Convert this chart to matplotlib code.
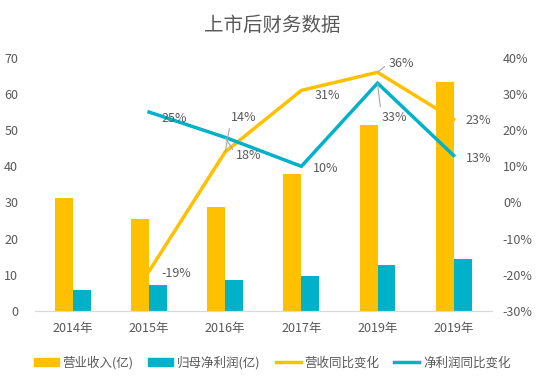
import matplotlib
matplotlib.use('Agg')
import matplotlib.pyplot as plt
from matplotlib.patches import Patch
from matplotlib.lines import Line2D
import numpy as np

plt.rcParams['font.family'] = ['Noto Sans CJK SC', 'DejaVu Sans']

years = ['2014年', '2015年', '2016年', '2017年', '2019年', '2019年']
revenue = [31.3, 25.5, 28.8, 37.9, 51.5, 63.4]
net_profit = [5.8, 7.2, 8.6, 9.7, 12.7, 14.4]
rev_growth = [None, -19, 14, 31, 36, 23]
profit_growth = [None, 25, 18, 10, 33, 13]

YELLOW = '#FFC000'
CYAN = '#00B2C9'
GRAY = '#595959'

fig = plt.figure(figsize=(5.44, 3.83), dpi=100)
ax = fig.add_axes([0.064, 0.188, 0.84, 0.661])
ax2 = ax.twinx()

x = np.arange(len(years))
w = 0.235
ax.bar(x - w / 2, revenue, w, color=YELLOW)
ax.bar(x + w / 2, net_profit, w, color=CYAN)
ax.set_xlim(-0.5, len(years) - 0.5)
ax.set_ylim(0, 70)
ax.set_yticks(range(0, 71, 10))
ax.set_xticks(x)
ax.set_xticklabels(years)

xl = x[1:]
rg = rev_growth[1:]
pg = profit_growth[1:]
ax2.plot(xl, rg, color=YELLOW, lw=2.5, solid_joinstyle='miter')
ax2.plot(xl, pg, color=CYAN, lw=2.5, solid_joinstyle='miter')
ax2.set_ylim(-30, 40)
ax2.set_yticks(range(-30, 41, 10))
ax2.set_yticklabels([f'{v}%' for v in range(-30, 41, 10)])

for a in (ax, ax2):
    for s in ('top', 'left', 'right'):
        a.spines[s].set_visible(False)
    a.spines['bottom'].set_color('#D9D9D9')
    a.tick_params(length=0, colors=GRAY, labelsize=9)
ax.tick_params(axis='x', pad=8)
ax.tick_params(axis='y', pad=12)
ax2.tick_params(axis='y', pad=8)

# data labels (offsets in pixels)
rev_off = [(12, -2), (6, 34), (13, -5), (11, 9), (12, -1)]
pro_off = [(12, -6), (11, -18), (12, -2), (4, -34), (12, -3)]
rev_lead = [False, True, False, True, False]
pro_lead = [False, True, False, True, False]
for i in range(len(xl)):
    for vals, offs, leads in ((rg, rev_off, rev_lead), (pg, pro_off, pro_lead)):
        props = None
        if leads[i]:
            props = dict(arrowstyle='-', color='#A6A6A6', lw=0.8,
                         relpos=(0, 0.5), shrinkA=1, shrinkB=0)
        ax2.annotate(f'{vals[i]}%', (xl[i], vals[i]), xytext=offs[i],
                     textcoords='offset pixels', fontsize=9, color=GRAY,
                     ha='left', va='center', arrowprops=props)

fig.suptitle('上市后财务数据', x=0.5, y=0.962, fontsize=14, color=GRAY)

handles = [Patch(color=YELLOW), Patch(color=CYAN),
           Line2D([], [], color=YELLOW, lw=2.5), Line2D([], [], color=CYAN, lw=2.5)]
labels = ['营业收入(亿)', '归母净利润(亿)', '营收同比变化', '净利润同比变化']
fig.legend(handles, labels, loc='center', bbox_to_anchor=(0.5, 0.053), ncol=4,
           frameon=False, fontsize=9, labelcolor=GRAY, handlelength=2.0,
           handleheight=0.6, handletextpad=0.3, columnspacing=1.2)

fig.savefig('out.png', dpi=100)
